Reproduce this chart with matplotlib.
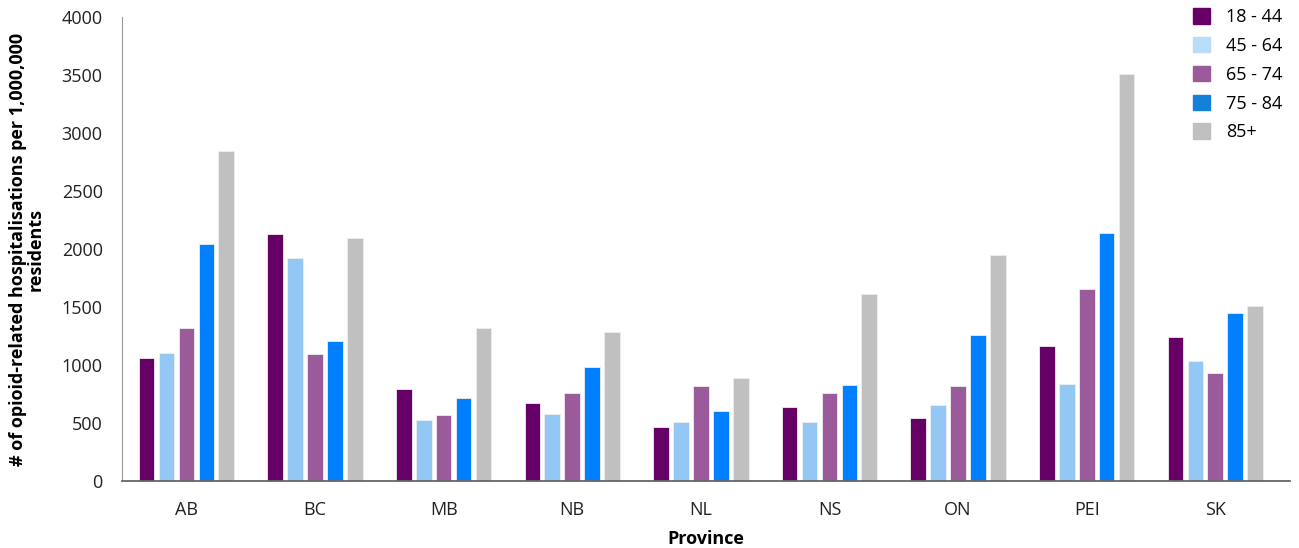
"""
Opioid-related hospitalisations per 1,000,000 residents by province and age group
"""
import numpy as np
import matplotlib
matplotlib.use("Agg")
import matplotlib.pyplot as plt

provinces = ["AB", "BC", "MB", "NB", "NL", "NS", "ON", "PEI", "SK"]
age_groups = ["18 - 44", "45 - 64", "65 - 74", "75 - 84", "85+"]

age_18_44 = [1063, 2133, 793, 672, 463, 635, 543, 1164, 1245]
age_45_64 = [1106, 1923, 523, 578, 512, 506, 659, 836, 1038]
age_65_74 = [1319, 1098, 572, 756, 819, 756, 822, 1659, 928]
age_75_84 = [2046, 1207, 719, 983, 603, 825, 1256, 2135, 1452]
age_85_up = [2845, 2098, 1322, 1282, 891, 1612, 1952, 3508, 1512]

bar_colors = ["#660066", "#94C8F4", "#9B5A9A", "#0080FF", "#C0C0C0"]
legend_colors = ["#660066", "#B9DCF8", "#9B5A9A", "#1580D8", "#C0C0C0"]

plt.rcParams["font.family"] = ["Open Sans", "DejaVu Sans"]

fig = plt.figure(figsize=(12.99, 5.48), dpi=100)
ax = fig.add_axes([0.094, 0.122, 0.899, 0.847])

series = [age_18_44, age_45_64, age_65_74, age_75_84, age_85_up]
x = np.arange(len(provinces))
pitch = 0.155
width = 0.122
handles = []
for i, vals in enumerate(series):
    ax.bar(x + (i - 2) * pitch, vals, width=width, color=bar_colors[i],
           edgecolor="#EEEEEE", linewidth=0.6, zorder=2)
    handles.append(plt.Rectangle((0, 0), 1, 1, color=legend_colors[i]))

ax.set_xlim(-0.5, 8.58)
ax.set_ylim(0, 4000)
ax.set_yticks(range(0, 4001, 500))
ax.set_xticks(x)
ax.set_xticklabels(provinces)
ax.tick_params(axis="both", length=0, labelsize=13, colors="#222222")
ax.tick_params(axis="y", pad=14)
ax.tick_params(axis="x", pad=14)

for side in ["top", "right"]:
    ax.spines[side].set_visible(False)
ax.spines["left"].set_color("#999999")
ax.spines["bottom"].set_color("#666666")
ax.spines["bottom"].set_linewidth(1.3)

ax.set_xlabel("Province", fontsize=13, fontweight="bold", labelpad=8)
ax.set_ylabel("# of opioid-related hospitalisations per 1,000,000\nresidents",
              fontsize=13, fontweight="bold", labelpad=12, linespacing=1.0)

fig.legend(handles, age_groups, loc="upper right", bbox_to_anchor=(1.0, 1.015),
           frameon=False, fontsize=13, handlelength=0.95, handleheight=0.95,
           labelspacing=0.6, handletextpad=0.9)

fig.savefig("out.png", dpi=100)
